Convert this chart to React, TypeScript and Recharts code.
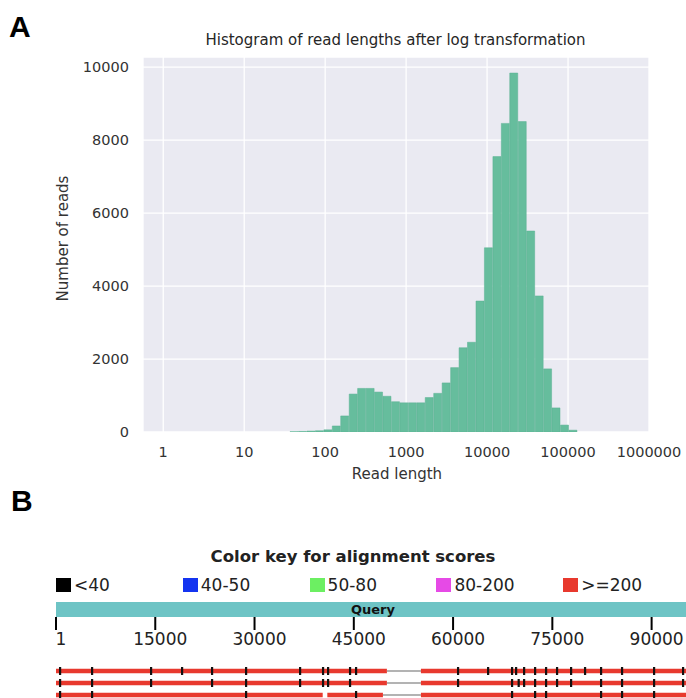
import { ComposedChart, Bar, XAxis, YAxis, CartesianGrid, Line, Scatter, LabelList } from "recharts";

// panel A: histogram of log10(read length)
const binCenters = [
  1.618, 1.722, 1.827, 1.931, 2.036, 2.14, 2.244, 2.349, 2.453, 2.558, 2.662, 2.766,
  2.871, 2.975, 3.08, 3.184, 3.288, 3.393, 3.497, 3.602, 3.706, 3.81, 3.915, 4.019,
  4.124, 4.228, 4.332, 4.437, 4.541, 4.646, 4.75, 4.854, 4.959, 5.063,
];
const readCounts = [
  8, 15, 25, 35, 60, 165, 440, 1040, 1195, 1195, 1095, 980, 830, 800, 800, 800, 945,
  1060, 1345, 1765, 2310, 2460, 3590, 5050, 7550, 8460, 9840, 8510, 5510, 3730, 1730,
  660, 190, 50,
];
const countTicks = [0, 2000, 4000, 6000, 8000, 10000];
const decadeTicks = [0, 1, 2, 3, 4, 5, 6];
const decadeLabels = ["1", "10", "100", "1000", "10000", "100000", "1000000"];

// panel B: BLAST graphic
const scoreLabels = ["<40", "40-50", "50-80", "80-200", ">=200"];
const scoreColors = ["#000000", "#1434f0", "#6cef62", "#e64ae6", "#e8392e"];
const queryTicks = [1, 15000, 30000, 45000, 60000, 75000, 90000];
const queryLength = 95800;
const hitSegments = [
  [[1, 50000], [55140, 95800]],
  [[1, 50000], [55140, 95800]],
  [[1, 40300], [41000, 49400], [55140, 95800]],
];
const hitGaps = [
  [50000, 55140],
  [50000, 55140],
  [49400, 55140],
];
const hitMarks = [
  [604, 5440, 14355, 19040, 23570, 28710, 36870, 40340, 41100, 44420, 45330, 60740, 65280,
    68900, 69510, 70720, 72380, 74040, 75700, 77820, 79930, 82350, 85520, 90360, 94740],
  [604, 5440, 14355, 23570, 28710, 36870, 40340, 41100, 44420, 60740, 68900, 69900, 70720,
    72380, 74040, 75700, 77820, 82350, 85520, 90360, 94740],
  [604, 5440, 28710, 45330, 68900, 72380, 74040, 82350, 85520, 90360],
];

const histData = binCenters.map((b, i) => ({ bin: b, reads: readCounts[i] }));

const mpl = { fontFamily: "DejaVu Sans", fontSize: 14.5, fill: "#333333" };
const ncbi = "DejaVu Sans";

const MarkShape = (props: any) => (
  <rect x={props.cx - 1} y={props.cy - 4} width={2.2} height={8} fill="#111" />
);

export default function App() {
  return (
    <div style={{ position: "absolute", left: 0, top: 0, width: 686, height: 698, overflow: "hidden", background: "#fff" }}>
      <div style={{ position: "absolute", left: 9, top: 11.6, font: "bold 30px 'Liberation Sans'", lineHeight: "30px", color: "#000" }}>A</div>
      <div style={{ position: "absolute", left: 0, width: 791, top: 33.3, textAlign: "center", font: "15px 'DejaVu Sans'", lineHeight: "15px", color: "#262626" }}>
        Histogram of read lengths after log transformation
      </div>

      <div style={{ position: "absolute", left: 0, top: 0 }}>
        <ComposedChart
          width={686}
          height={500}
          data={histData}
          margin={{ top: 57, right: 37, bottom: 28, left: 73 }}
          barCategoryGap={0}
          barGap={0}
        >
          <CartesianGrid stroke="#ffffff" strokeWidth={1.3} fill="#eaeaf2" />
          <XAxis
            type="number"
            dataKey="bin"
            domain={[-0.25, 6]}
            ticks={decadeTicks}
            tickFormatter={(v: number) => decadeLabels[v]}
            axisLine={false}
            tickLine={false}
            tickSize={6}
            tickMargin={9}
            height={40}
            tick={mpl}
            allowDataOverflow
          />
          <YAxis
            type="number"
            domain={[0, 10280]}
            ticks={countTicks}
            axisLine={false}
            tickLine={false}
            tickSize={6}
            tickMargin={8}
            width={70}
            tick={mpl}
            allowDataOverflow
          />
          <Bar dataKey="reads" fill="#66bd9d" stroke="#5bb092" strokeWidth={0.5} isAnimationActive={false} />
        </ComposedChart>
      </div>

      <div style={{ position: "absolute", left: 297, width: 200, top: 467.3, textAlign: "center", font: "15px 'DejaVu Sans'", lineHeight: "15px", color: "#333" }}>
        Read length
      </div>
      <div style={{ position: "absolute", left: -36.7, width: 200, top: 230.5, textAlign: "center", font: "15px 'DejaVu Sans'", lineHeight: "15px", color: "#333", transform: "rotate(-90deg)" }}>
        Number of reads
      </div>

      <div style={{ position: "absolute", left: 11, top: 485.6, font: "bold 30px 'Liberation Sans'", lineHeight: "30px", color: "#000" }}>B</div>
      <div style={{ position: "absolute", left: 0, width: 706, top: 548.7, textAlign: "center", font: `bold 16.5px '${ncbi}'`, lineHeight: "16.5px", color: "#222" }}>
        Color key for alignment scores
      </div>
      {scoreLabels.map((s, i) => (
        <div key={s} style={{ position: "absolute", left: 56 + i * 126.8, top: 576.5, height: 17, display: "flex", alignItems: "center" }}>
          <div style={{ width: 15, height: 14, background: scoreColors[i] }} />
          <span style={{ marginLeft: 3, font: `17px '${ncbi}'`, lineHeight: "17px", color: "#222" }}>{s}</span>
        </div>
      ))}

      <div style={{ position: "absolute", left: 0, top: 602 }}>
        <ComposedChart
          width={694}
          height={60}
          layout="vertical"
          data={[{ name: "Query", span: [1, queryLength] }]}
          margin={{ top: 0, right: 4, bottom: 0, left: 56 }}
          barCategoryGap={0}
        >
          <XAxis
            type="number"
            domain={[1, queryLength]}
            ticks={queryTicks}
            axisLine={false}
            tickLine={{ stroke: "#000", strokeWidth: 2 }}
            tickSize={13}
            tickMargin={3}
            height={45}
            tick={{ fontFamily: ncbi, fontSize: 17, fill: "#222", dx: 5 }}
            interval={0}
            allowDataOverflow
          />
          <YAxis type="category" dataKey="name" hide />
          <Bar dataKey="span" fill="#6ec4c5" isAnimationActive={false}>
            <LabelList dataKey="name" position="center" style={{ fontFamily: ncbi, fontSize: 13, fontWeight: "bold", fill: "#111" }} />
          </Bar>
        </ComposedChart>
      </div>

      <div style={{ position: "absolute", left: 0, top: 659 }}>
        <ComposedChart width={694} height={48} margin={{ top: 6, right: 4, bottom: 6, left: 56 }}>
          <XAxis type="number" dataKey="x" domain={[1, queryLength]} hide allowDataOverflow />
          <YAxis type="number" dataKey="y" domain={[-0.5, 2.5]} reversed hide />
          {hitGaps.map((g, r) => (
            <Line
              key={`gap${r}`}
              data={[{ x: g[0], y: r }, { x: g[1], y: r }]}
              dataKey="y"
              stroke="#9a9a9a"
              strokeWidth={1.5}
              dot={false}
              isAnimationActive={false}
            />
          ))}
          {hitSegments.map((segs, r) => (
            <Line
              key={`hit${r}`}
              data={segs.flatMap((s) => [{ x: s[0], y: r }, { x: s[1], y: r }, { x: s[1], y: null }])}
              dataKey="y"
              stroke="#e8392e"
              strokeWidth={4.5}
              strokeLinecap="butt"
              dot={false}
              connectNulls={false}
              isAnimationActive={false}
            />
          ))}
          {hitMarks.map((m, r) => (
            <Scatter
              key={`mark${r}`}
              data={m.map((x) => ({ x, y: r }))}
              shape={MarkShape}
              isAnimationActive={false}
            />
          ))}
        </ComposedChart>
      </div>
    </div>
  );
}
